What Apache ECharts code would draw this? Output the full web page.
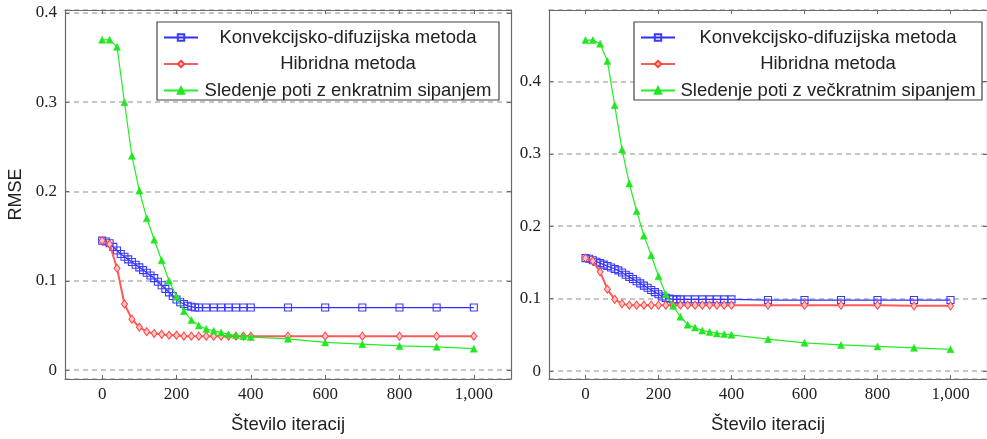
<!DOCTYPE html>
<html><head><meta charset="utf-8">
<script src="https://cdn.jsdelivr.net/npm/echarts@6/dist/echarts.min.js"></script>
<style>html,body{margin:0;padding:0;background:#fff}#c{width:987px;height:439px}</style>
</head><body><div id="c"></div>
<script>
// ---------- data ----------
const nameBlue = 'Konvekcijsko-difuzijska metoda';
const nameRed = 'Hibridna metoda';
const nameGreenL = 'Sledenje poti z enkratnim sipanjem';
const nameGreenR = 'Sledenje poti z večkratnim sipanjem';
const xLabel = 'Število iteracij';
const yLabel = 'RMSE';

// iterations for blue series (dense at start)
const xBlue = [0,10,20,30,40,50,60,70,80,90,100,110,120,130,140,150,160,170,180,190,200,210,220,230,240,250,260,280,300,320,340,360,380,400,500,600,700,800,900,1000];
// iterations for red & green series
const xOther = [0,20,40,60,80,100,120,140,160,180,200,220,240,260,280,300,320,340,360,380,400,500,600,700,800,900,1000];

// left chart
const blueL = [0.145,0.144,0.142,0.138,0.134,0.130,0.127,0.124,0.121,0.118,0.115,0.112,0.109,0.106,0.103,0.099,0.095,0.091,0.087,0.083,0.079,0.076,0.074,0.072,0.071,0.070,0.070,0.070,0.070,0.070,0.070,0.070,0.070,0.070,0.070,0.070,0.070,0.070,0.070,0.070];
const redL = [0.145,0.141,0.114,0.074,0.057,0.048,0.043,0.041,0.040,0.039,0.039,0.038,0.038,0.038,0.038,0.038,0.038,0.038,0.038,0.038,0.038,0.038,0.038,0.038,0.038,0.038,0.038];
const greenL = [0.370,0.370,0.362,0.300,0.240,0.201,0.170,0.146,0.123,0.100,0.082,0.066,0.056,0.050,0.046,0.044,0.042,0.040,0.039,0.038,0.037,0.035,0.031,0.029,0.027,0.026,0.024];

// right chart
const blueR = [0.156,0.155,0.153,0.151,0.149,0.147,0.145,0.143,0.141,0.139,0.136,0.133,0.130,0.127,0.124,0.121,0.118,0.115,0.112,0.109,0.106,0.103,0.101,0.100,0.099,0.099,0.099,0.099,0.099,0.099,0.099,0.099,0.099,0.099,0.098,0.098,0.098,0.098,0.098,0.098];
const redR = [0.156,0.152,0.137,0.113,0.099,0.093,0.091,0.091,0.091,0.091,0.091,0.091,0.091,0.091,0.091,0.091,0.091,0.091,0.091,0.091,0.091,0.091,0.091,0.091,0.091,0.090,0.090];
const greenR = [0.457,0.457,0.452,0.428,0.367,0.306,0.259,0.221,0.187,0.160,0.131,0.106,0.090,0.075,0.064,0.060,0.056,0.054,0.052,0.051,0.050,0.044,0.039,0.036,0.034,0.032,0.030];

// ---------- helpers ----------
const zip = (xs, ys) => xs.map((x, i) => [x, ys[i]]);
const FRAME = '#6a6a6a';
const serif = 'Liberation Serif';
const sans = 'Liberation Sans';

function yFmt(v){ const r = Math.round(v*10); if (Math.abs(v*10 - r) > 1e-6) return ''; return r === 0 ? '0' : (r/10).toFixed(1); }
function xFmt(v){ const r = Math.round(v/200); if (Math.abs(v/200 - r) > 1e-6) return ''; return v.toLocaleString('en-US'); }

function xAx(grid, main){
  return {
    type:'value', gridIndex:grid, position: main ? 'bottom' : 'top',
    min:-100, max:1100, splitNumber:6,
    axisLine:{show:true, onZero:false, lineStyle:{color:FRAME, width:1.2}},
    axisTick:{show:true, inside:true, length:4, lineStyle:{color:FRAME}},
    axisLabel:{show:main, formatter:xFmt, showMinLabel:false, showMaxLabel:false, margin:7,
      fontFamily:serif, fontSize:17, color:'#222'},
    splitLine:{show:false},
    name: main ? xLabel : '', nameLocation:'middle', nameGap:36,
    nameTextStyle:{fontFamily:sans, fontSize:18.5, color:'#222'}
  };
}
function yAx(grid, main, min, max, split, withName){
  return {
    type:'value', gridIndex:grid, position: main ? 'left' : 'right',
    min:min, max:max, splitNumber:split,
    axisLine:{show:true, onZero:false, lineStyle:{color:FRAME, width:1.2}},
    axisTick:{show:true, inside:true, length:4, lineStyle:{color:FRAME}},
    axisLabel:{show:main, formatter:yFmt, showMinLabel:false, showMaxLabel:false, margin:8,
      fontFamily:serif, fontSize:17, color:'#222'},
    splitLine:{show:main, lineStyle:{type:[5,4], color:'#b4b4b4', width:1.5}},
    name: withName ? yLabel : '', nameLocation:'middle', nameGap:40, nameRotate:90,
    nameTextStyle:{fontFamily:sans, fontSize:18, color:'#222'}
  };
}

function blueSeries(xi, yi, data){
  return {name:nameBlue, type:'line', xAxisIndex:xi, yAxisIndex:yi, data:data,
    symbol:'rect', symbolSize:7, showAllSymbol:true,
    lineStyle:{color:'#2f2fff', width:1.3},
    itemStyle:{color:'rgba(255,255,255,0)', borderColor:'#3a3aff', borderWidth:1.1},
    emphasis:{disabled:true}, animation:false, z:2};
}
function redSeries(xi, yi, data){
  return {name:nameRed, type:'line', xAxisIndex:xi, yAxisIndex:yi, data:data,
    symbol:'diamond', symbolSize:[6,8], showAllSymbol:true,
    lineStyle:{color:'#ff5a5a', width:2},
    itemStyle:{color:'#ffc4c4', borderColor:'#ff4040', borderWidth:1},
    emphasis:{disabled:true}, animation:false, z:3};
}
function greenSeries(name, xi, yi, data){
  return {name:name, type:'line', xAxisIndex:xi, yAxisIndex:yi, data:data,
    symbol:'triangle', symbolSize:7, showAllSymbol:true,
    lineStyle:{color:'#22ee22', width:1.2},
    itemStyle:{color:'#22e622', borderColor:'#22e622', borderWidth:0.5},
    emphasis:{disabled:true}, animation:false, z:4};
}

function legend(left, names, textW){
  return {
    left:left, top:22, orient:'vertical', itemGap:7.5, itemWidth:34, itemHeight:8,
    padding:[6,6,0,6], borderColor:'#444', borderWidth:1.2, backgroundColor:'#fff',
    data:names, selectedMode:false,
    formatter: n => '{t|' + n + '}',
    textStyle:{fontFamily:sans, fontSize:18.5, color:'#222',
      rich:{t:{width:textW, align:'center', fontFamily:sans, fontSize:18.5, lineHeight:20, color:'#222'}}}
  };
}

const chart = echarts.init(document.getElementById('c'), null, {renderer:'canvas'});
chart.setOption({
  animation:false,
  backgroundColor:'#fff',
  grid:[
    {left:65, top:10, width:446, height:372},
    {left:549, top:10, width:446, height:372}
  ],
  xAxis:[xAx(0,true), xAx(0,false), xAx(1,true), xAx(1,false)],
  yAxis:[
    yAx(0,true,-0.01,0.4033,4,true), yAx(0,false,-0.01,0.4033,4,false),
    yAx(1,true,-0.011,0.4986,5,false), yAx(1,false,-0.011,0.4986,5,false)
  ],
  legend:[
    legend(157, [nameBlue, nameRed, nameGreenL], 290),
    legend(634, [nameBlue, nameRed, nameGreenR], 296)
  ],
  series:[
    blueSeries(0,0,zip(xBlue,blueL)),
    redSeries(0,0,zip(xOther,redL)),
    greenSeries(nameGreenL,0,0,zip(xOther,greenL)),
    blueSeries(2,2,zip(xBlue,blueR)),
    redSeries(2,2,zip(xOther,redR)),
    greenSeries(nameGreenR,2,2,zip(xOther,greenR))
  ]
});
</script>
</body></html>
